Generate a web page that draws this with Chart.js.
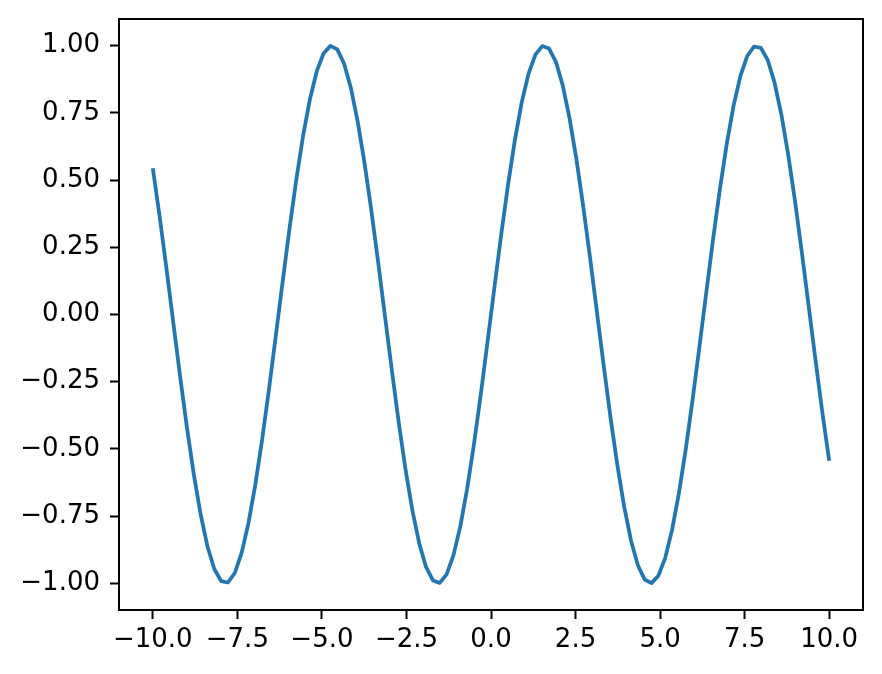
<!DOCTYPE html>
<html>
<head>
<meta charset="utf-8">
<script src="https://cdn.jsdelivr.net/npm/chart.js@4/dist/chart.umd.min.js"></script>
<style>
html,body{margin:0;padding:0;background:#fff;}
#wrap{width:882px;height:674px;}
</style>
</head>
<body>
<div id="wrap"><canvas id="c" width="882" height="674"></canvas></div>
<script>
const xValues = [
 -10.000,-9.798,-9.596,-9.394,-9.192,-8.990,-8.788,-8.586,-8.384,-8.182,
 -7.980,-7.778,-7.576,-7.374,-7.172,-6.970,-6.768,-6.566,-6.364,-6.162,
 -5.960,-5.758,-5.556,-5.354,-5.152,-4.949,-4.747,-4.545,-4.343,-4.141,
 -3.939,-3.737,-3.535,-3.333,-3.131,-2.929,-2.727,-2.525,-2.323,-2.121,
 -1.919,-1.717,-1.515,-1.313,-1.111,-0.909,-0.707,-0.505,-0.303,-0.101,
 0.101,0.303,0.505,0.707,0.909,1.111,1.313,1.515,1.717,1.919,
 2.121,2.323,2.525,2.727,2.929,3.131,3.333,3.535,3.737,3.939,
 4.141,4.343,4.545,4.747,4.949,5.152,5.354,5.556,5.758,5.960,
 6.162,6.364,6.566,6.768,6.970,7.172,7.374,7.576,7.778,7.980,
 8.182,8.384,8.586,8.788,8.990,9.192,9.394,9.596,9.798,10.000
];
const yValues = [
 0.5440,0.3646,0.1703,-0.0308,-0.2308,-0.4213,-0.5947,-0.7439,-0.8629,-0.9467,
 -0.9921,-0.9971,-0.9616,-0.8869,-0.7762,-0.6338,-0.4658,-0.2787,-0.0804,0.1213,
 0.3180,0.5017,0.6651,0.8014,0.9051,0.9720,0.9994,0.9861,0.9327,0.8414,
 0.7158,0.5612,0.3837,0.1906,-0.0103,-0.2107,-0.4026,-0.5781,-0.7300,-0.8523,
 -0.9399,-0.9893,-0.9985,-0.9670,-0.8962,-0.7889,-0.6496,-0.4839,-0.2984,-0.1008,
 0.1008,0.2984,0.4839,0.6496,0.7889,0.8962,0.9670,0.9985,0.9893,0.9399,
 0.8523,0.7300,0.5781,0.4026,0.2107,0.0103,-0.1906,-0.3837,-0.5612,-0.7158,
 -0.8414,-0.9327,-0.9861,-0.9994,-0.9720,-0.9051,-0.8014,-0.6651,-0.5017,-0.3180,
 -0.1213,0.0804,0.2787,0.4658,0.6338,0.7762,0.8869,0.9616,0.9971,0.9921,
 0.9467,0.8629,0.7439,0.5947,0.4213,0.2308,0.0308,-0.1703,-0.3646,-0.5440
];
const xTicks = [-10.0,-7.5,-5.0,-2.5,0.0,2.5,5.0,7.5,10.0];
const yTicks = [-1.00,-0.75,-0.50,-0.25,0.00,0.25,0.50,0.75,1.00];

const fmt = (v, d) => (v < 0 ? '\u2212' : '') + Math.abs(v).toFixed(d);

const framePlugin = {
  id: 'frame',
  afterDatasetsDraw(chart) {
    const a = chart.chartArea, ctx = chart.ctx;
    ctx.save();
    ctx.strokeStyle = '#000';
    ctx.lineWidth = 2;
    ctx.strokeRect(a.left, a.top, a.right - a.left, a.bottom - a.top);
    ctx.restore();
  }
};

const tickFont = {family: '"DejaVu Sans", sans-serif', size: 26, lineHeight: 1.0};

new Chart(document.getElementById('c'), {
  type: 'line',
  data: {
    datasets: [{
      data: xValues.map((x, i) => ({x: x, y: yValues[i]})),
      borderColor: '#1f77b4',
      borderWidth: 3.75,
      pointRadius: 0,
      tension: 0,
      fill: false,
      borderCapStyle: 'butt',
      borderJoinStyle: 'round'
    }]
  },
  options: {
    responsive: false,
    maintainAspectRatio: false,
    animation: false,
    devicePixelRatio: 1,
    layout: {padding: {top: 19, right: 19, left: 0, bottom: 0}},
    plugins: {legend: {display: false}, tooltip: {enabled: false}, title: {display: false}},
    scales: {
      x: {
        type: 'linear',
        min: -11, max: 11,
        afterBuildTicks: s => { s.ticks = xTicks.map(v => ({value: v})); },
        afterFit: s => { s.height = 64; s.paddingLeft = 0; s.paddingRight = 0; },
        border: {display: false},
        grid: {drawOnChartArea: false, drawTicks: true, tickLength: 9, tickWidth: 2, tickColor: '#000'},
        ticks: {padding: 8, maxRotation: 0, autoSkip: false, color: '#000', font: tickFont, callback: v => fmt(v, 1)}
      },
      y: {
        type: 'linear',
        min: -1.0993, max: 1.0993,
        afterBuildTicks: s => { s.ticks = yTicks.map(v => ({value: v})); },
        afterFit: s => { s.width = 119; s.paddingTop = 0; s.paddingBottom = 0; },
        border: {display: false},
        grid: {drawOnChartArea: false, drawTicks: true, tickLength: 9, tickWidth: 2, tickColor: '#000'},
        ticks: {padding: 10, autoSkip: false, color: '#000', font: tickFont, callback: v => fmt(v, 2)}
      }
    }
  },
  plugins: [framePlugin]
});
</script>
</body>
</html>
